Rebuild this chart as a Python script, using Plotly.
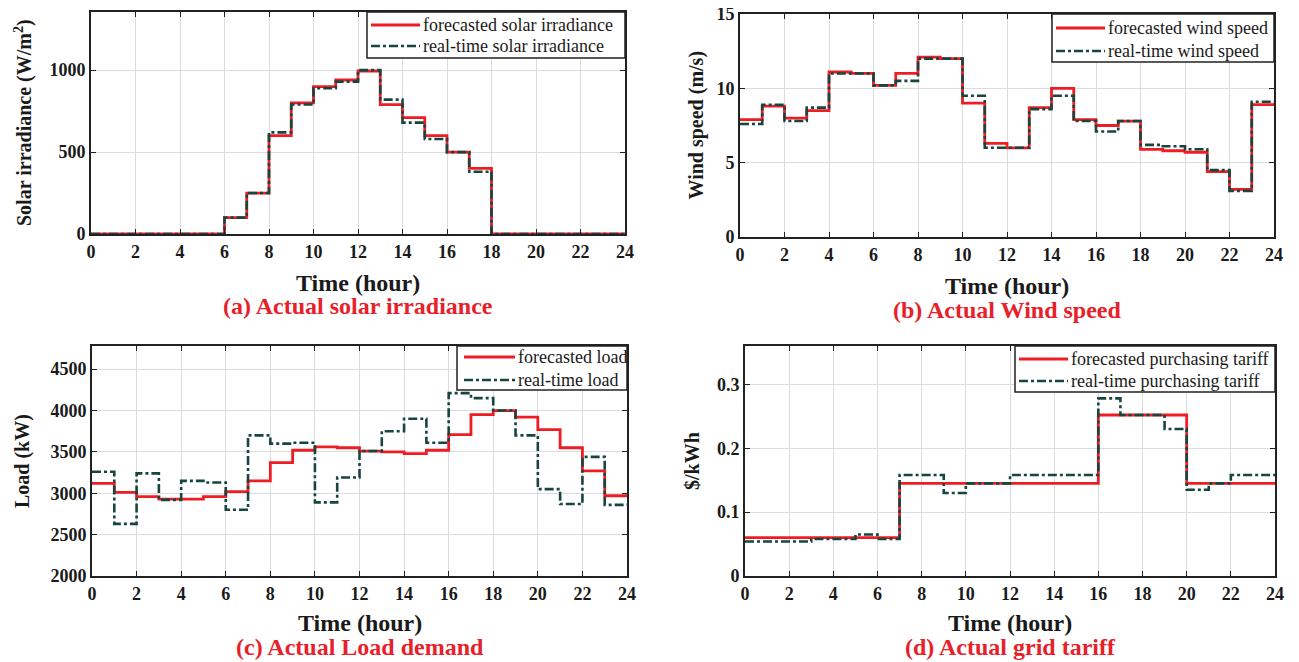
import plotly.graph_objects as go

hours = list(range(25))

solar_forecast = [0, 0, 0, 0, 0, 0, 100, 250, 600, 800, 900, 940, 995, 790, 710, 600, 500, 400, 0, 0, 0, 0, 0, 0]
solar_real = [0, 0, 0, 0, 0, 0, 100, 250, 620, 790, 890, 930, 1000, 820, 680, 580, 500, 380, 0, 0, 0, 0, 0, 0]

wind_forecast = [7.9, 8.8, 8.0, 8.5, 11.1, 11.0, 10.2, 11.0, 12.1, 12.0, 9.0, 6.3, 6.0, 8.7, 10.0, 7.9, 7.5, 7.8, 5.9, 5.8, 5.7, 4.4, 3.2, 8.9]
wind_real = [7.6, 8.9, 7.8, 8.7, 11.0, 11.0, 10.2, 10.5, 12.0, 12.0, 9.5, 6.0, 6.0, 8.6, 9.5, 7.8, 7.1, 7.8, 6.2, 6.1, 5.9, 4.5, 3.1, 9.1]

load_forecast = [3120, 3010, 2960, 2930, 2930, 2960, 3020, 3150, 3370, 3520, 3560, 3550, 3510, 3500, 3480, 3520, 3710, 3950, 4000, 3920, 3770, 3550, 3270, 2970]
load_real = [3260, 2630, 3240, 2920, 3150, 3130, 2800, 3700, 3600, 3610, 2890, 3190, 3510, 3750, 3900, 3610, 4210, 4150, 4000, 3700, 3050, 2870, 3440, 2860]

tariff_forecast = [0.06] * 7 + [0.145] * 9 + [0.252] * 4 + [0.145] * 4
tariff_real = [0.054, 0.054, 0.054, 0.058, 0.058, 0.065, 0.058, 0.158, 0.158, 0.13, 0.145, 0.145,
               0.158, 0.158, 0.158, 0.158, 0.278, 0.252, 0.252, 0.23, 0.135, 0.145, 0.158, 0.158]

x_ticks = list(range(0, 25, 2))

RED = "#ee1d23"
TEAL = "#17453f"
FONT = "Liberation Serif"
PAGE_OFF = 8  # default body margin of the html page
W, H = 1299 - PAGE_OFF, 662 - PAGE_OFF


def px_x(v):
    return (v - PAGE_OFF) / W


def px_y(v):
    return 1 - (v - PAGE_OFF) / H


panels = [
    dict(ax="", fc=solar_forecast, rt=solar_real,
         names=("forecasted solar irradiance", "real-time solar irradiance"),
         xd=(91, 625), yd=(12, 234), yr=(0, 1355), ytv=[0, 500, 1000],
         leg=dict(box=(367, 625, 12, 58), sample=(371, 420), rows=(25, 46)),
         ytitle="Solar irradiance (W/m<sup>2</sup>)", ytx=23,
         caption="(a) Actual solar irradiance", ttl_y=283, cap_y=306),
    dict(ax="2", fc=wind_forecast, rt=wind_real,
         names=("forecasted wind speed", "real-time wind speed"),
         xd=(740, 1274), yd=(14, 237), yr=(0, 15), ytv=[0, 5, 10, 15],
         leg=dict(box=(1052, 1274, 14, 62), sample=(1056, 1105), rows=(28, 51)),
         ytitle="Wind speed (m/s)", ytx=696,
         caption="(b) Actual Wind speed", ttl_y=286, cap_y=310),
    dict(ax="3", fc=load_forecast, rt=load_real,
         names=("forecasted load", "real-time load"),
         xd=(92, 627), yd=(346, 576), yr=(2000, 4780), ytv=[2000, 2500, 3000, 3500, 4000, 4500],
         leg=dict(box=(457, 627, 346, 390), sample=(464, 515), rows=(357, 380)),
         ytitle="Load (kW)", ytx=23,
         caption="(c) Actual Load demand", ttl_y=623, cap_y=647),
    dict(ax="4", fc=tariff_forecast, rt=tariff_real,
         names=("forecasted purchasing tariff", "real-time purchasing tariff"),
         xd=(745, 1275), yd=(346, 576), yr=(0, 0.36), ytv=[0, 0.1, 0.2, 0.3],
         leg=dict(box=(1015, 1275, 346, 392), sample=(1019, 1068), rows=(359, 381)),
         ytitle="$/kWh", ytx=692,
         caption="(d) Actual grid tariff", ttl_y=623, cap_y=647),
]

fig = go.Figure()
layout = dict(width=W, height=H, margin=dict(l=0, r=0, t=0, b=0, autoexpand=False),
              paper_bgcolor="white", plot_bgcolor="white", showlegend=False,
              font=dict(family=FONT, color="#1a1a1a"), annotations=[], shapes=[])


def ann(text, x, y, size, color="#1a1a1a", angle=0, xanchor="center"):
    layout["annotations"].append(dict(text=text, x=x, y=y, xref="paper", yref="paper", showarrow=False,
                                      textangle=angle, xanchor=xanchor, yanchor="middle",
                                      font=dict(family=FONT, size=size, color=color)))


for p in panels:
    xa = "x" + p["ax"]
    ya = "y" + p["ax"]
    styles = [dict(color=RED, width=2.8), dict(color=TEAL, width=2.6, dash="dashdot")]
    for vals, name, st in zip((p["fc"], p["rt"]), p["names"], styles):
        fig.add_trace(go.Scatter(x=hours, y=vals + [vals[-1]], mode="lines", line_shape="hv",
                                 line=st, name=name, xaxis=xa, yaxis=ya))
    axis_common = dict(showline=True, linecolor="#222", linewidth=1.8, mirror="allticks",
                       ticks="inside", ticklen=5, tickcolor="#222", showgrid=True,
                       gridcolor="#dcdcdc", gridwidth=1, zeroline=False, automargin=False,
                       ticklabeloverflow="allow",
                       tickfont=dict(family=FONT, size=18, color="#1a1a1a", weight="bold"))
    layout["xaxis" + p["ax"]] = dict(axis_common, domain=[px_x(p["xd"][0]), px_x(p["xd"][1])],
                                     range=[0, 24], tickvals=x_ticks, anchor=ya)
    layout["yaxis" + p["ax"]] = dict(axis_common, domain=[px_y(p["yd"][1]), px_y(p["yd"][0])],
                                     range=list(p["yr"]), tickvals=p["ytv"], anchor=xa)

    # legend box (drawn as layout chrome, matching the reference's compact MATLAB legend)
    lg = p["leg"]
    x0, x1, y0, y1 = lg["box"]
    layout["shapes"].append(dict(type="rect", xref="paper", yref="paper",
                                 x0=px_x(x0), x1=px_x(x1), y0=px_y(y1), y1=px_y(y0),
                                 fillcolor="white", line=dict(color="#222", width=1.5), layer="above"))
    for row_y, name, st in zip(lg["rows"], p["names"], styles):
        layout["shapes"].append(dict(type="line", xref="paper", yref="paper",
                                     x0=px_x(lg["sample"][0]), x1=px_x(lg["sample"][1]),
                                     y0=px_y(row_y), y1=px_y(row_y), line=st, layer="above"))
        ann(name, px_x(lg["sample"][1] + 1), px_y(row_y), 18, xanchor="left")

    cx = (p["xd"][0] + p["xd"][1]) / 2
    ann("<b>Time (hour)</b>", px_x(cx), px_y(p["ttl_y"]), 24)
    ann("<b>" + p["caption"] + "</b>", px_x(cx), px_y(p["cap_y"]), 24, color="#e8202a")
    cy = (p["yd"][0] + p["yd"][1]) / 2
    ann("<b>" + p["ytitle"] + "</b>", px_x(p["ytx"]), px_y(cy), 20, angle=-90)

fig.update_layout(**layout)
fig.write_html("out.html")
